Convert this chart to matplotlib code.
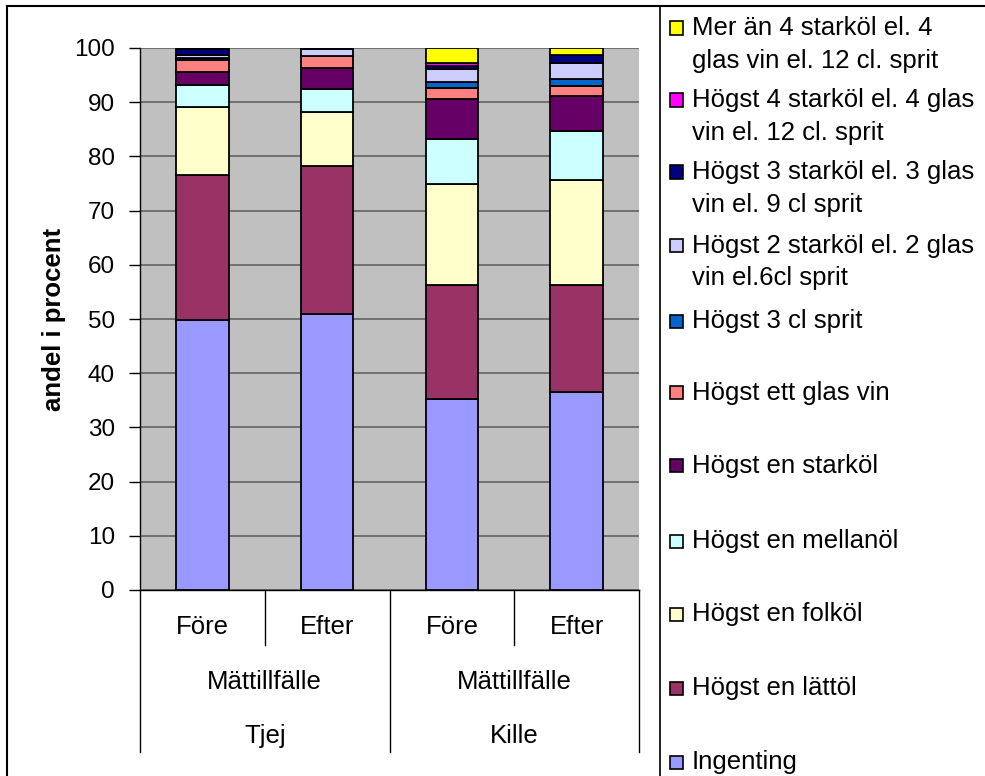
import numpy as np
import matplotlib
matplotlib.use("Agg")
import matplotlib.pyplot as plt
from matplotlib.patches import Rectangle
from matplotlib.lines import Line2D

plt.rcParams['font.family'] = ['Liberation Sans', 'DejaVu Sans']

# kategorier (x-axeln)
perioder = ["Före", "Efter", "Före", "Efter"]
grupper = ["Tjej", "Kille"]
nivå2 = "Mättillfälle"

# serier, nerifrån och upp
serier = [
    "Ingenting",
    "Högst en lättöl",
    "Högst en folköl",
    "Högst en mellanöl",
    "Högst en starköl",
    "Högst ett glas vin",
    "Högst 3 cl sprit",
    "Högst 2 starköl el. 2 glas\nvin el.6cl sprit",
    "Högst 3 starköl el. 3 glas\nvin el. 9 cl sprit",
    "Högst 4 starköl el. 4 glas\nvin el. 12 cl. sprit",
    "Mer än 4 starköl el. 4\nglas vin el. 12 cl. sprit",
]
farger = ["#9999FF", "#993366", "#FFFFCC", "#CCFFFF", "#660066", "#FF8080",
          "#0066CC", "#CCCCFF", "#000080", "#FF00FF", "#FFFF00"]

# andel i procent, en lista per serie (Tjej Före, Tjej Efter, Kille Före, Kille Efter)
ingenting = [49.8, 50.9, 35.3, 36.6]
lattol    = [26.8, 27.4, 21.0, 19.7]
folkol    = [12.6,  9.8, 18.7, 19.3]
mellanol  = [ 3.9,  4.3,  8.3,  9.1]
starkol   = [ 2.5,  4.0,  7.3,  6.5]
vin       = [ 2.2,  2.1,  2.1,  1.8]
sprit3cl  = [ 0.3,  0.0,  1.1,  1.3]
hogst2    = [ 0.6,  1.4,  2.4,  2.9]
hogst3    = [ 1.2,  0.1,  0.5,  1.5]
hogst4    = [ 0.1,  0.0,  0.6,  0.0]
mer4      = [ 0.0,  0.0,  2.7,  1.3]

varden = [ingenting, lattol, folkol, mellanol, starkol, vin,
          sprit3cl, hogst2, hogst3, hogst4, mer4]

W, H = 985, 776
fs = 18.5
fig = plt.figure(figsize=(W / 100, H / 100), dpi=100)

def px(x, y):
    return x / W, 1 - y / H

# diagramyta
ax = fig.add_axes([140 / W, (H - 590) / H, 499 / W, 542 / H])
ax.set_facecolor("#C0C0C0")
x = np.arange(len(perioder))
botten = np.zeros(len(perioder))
for v, f in zip(varden, farger):
    ax.bar(x, v, 0.42, bottom=botten, color=f, edgecolor="black", linewidth=1.3, zorder=3)
    botten += np.array(v)

ax.set_xlim(-0.5, 3.5)
ax.set_ylim(0, 100)
ax.set_yticks(range(0, 101, 10))
ax.tick_params(axis="y", labelsize=17.5, length=8, width=1, pad=10, direction="out")
ax.set_xticks([])
ax.yaxis.grid(True, color="#6a6a6a", linewidth=1.3, zorder=0)
for s in ["top", "right"]:
    ax.spines[s].set_visible(False)
ax.spines["left"].set_linewidth(1)
ax.spines["bottom"].set_linewidth(1)
ax.set_ylabel("andel i procent", fontsize=fs, fontweight="bold", labelpad=6)

# kategorier i flera nivåer under axeln
tr = ax.get_xaxis_transform()
def fy(p):
    return (590 - p) / 542

for xi, lab in zip(x, perioder):
    ax.text(xi, fy(627), lab, transform=tr, ha="center", va="center", fontsize=fs)
for gi, g in enumerate(grupper):
    mid = 2 * gi + 0.5
    ax.text(mid, fy(682), nivå2, transform=tr, ha="center", va="center", fontsize=fs)
    ax.text(mid, fy(736), g, transform=tr, ha="center", va="center", fontsize=fs)
for xb in [0.5, 2.5]:
    ax.plot([xb, xb], [0, fy(645)], transform=tr, color="black", lw=1, clip_on=False)
for xb in [-0.5, 1.5, 3.5]:
    ax.plot([xb, xb], [0, fy(752)], transform=tr, color="black", lw=1, clip_on=False)

# ram runt figuren och förklaringsrutan
fig.add_artist(Line2D([px(7, 0)[0]] * 2, [px(0, 6)[1], 0], color="black", lw=1.5))
fig.add_artist(Line2D([px(7, 0)[0], 1], [px(0, 6)[1]] * 2, color="black", lw=1.5))
fig.add_artist(Line2D([px(660, 0)[0]] * 2, [px(0, 6)[1], 0], color="black", lw=1.2))

# förklaring (översta serien först)
mitt = [44.5, 116.5, 188.5, 262, 321, 393, 466, 541, 614, 688, 762]
for i, (lab, f) in enumerate(zip(serier[::-1], farger[::-1])):
    tvaradig = "\n" in lab
    ym = mitt[i] - 16.5 if tvaradig else mitt[i]
    sx, sy = px(670, ym + 6.5)
    fig.add_artist(Rectangle((sx, sy), 13 / W, 13 / H, facecolor=f,
                             edgecolor="black", lw=1.2, transform=fig.transFigure))
    tx, ty = px(692, mitt[i])
    fig.text(tx, ty, lab, ha="left", va="center", fontsize=fs, linespacing=1.45)

fig.savefig("out.png", dpi=100)
